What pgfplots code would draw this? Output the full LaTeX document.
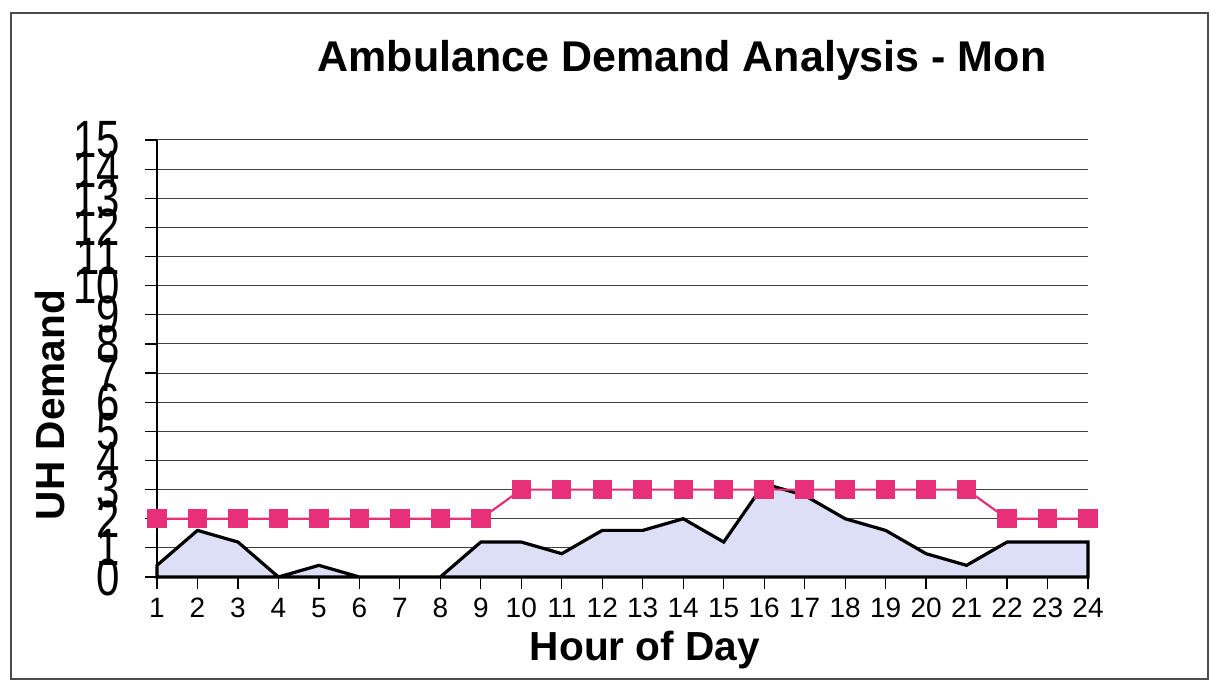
\documentclass[border=0pt]{standalone}
\usepackage{fontspec}
\setmainfont{Liberation Sans}
\usepackage{graphicx}
\usepackage{pgfplots}
\pgfplotsset{compat=1.18}

\definecolor{pinkline}{RGB}{232,48,122}
\definecolor{areafill}{RGB}{220,223,245}

\begin{document}
\begin{tikzpicture}[x=1pt,y=1pt]
\useasboundingbox (0,0) rectangle (605.5,340.5);
\draw[black!70, line width=0.8pt] (5.5,1) rectangle (604,334);
\node[font=\bfseries\fontsize{21.5}{24}\selectfont] at (341,310.5) {Ambulance Demand Analysis - Mon};
\node[font=\bfseries\fontsize{20.3}{22}\selectfont] at (322.5,15.5) {Hour of Day};
\node[font=\bfseries\fontsize{20.3}{22}\selectfont, rotate=90] at (25,138) {UH Demand};
\begin{axis}[at={(78.5pt,52pt)}, anchor=south west, scale only axis,
  width=465.5pt, height=218.5pt,
  xmin=1, xmax=24, ymin=0, ymax=15,
  xtick={1,...,24}, ytick={0,...,15},
  axis x line*=bottom, axis y line*=left,
  ymajorgrids, grid style={black!75, line width=0.5pt},
  tick align=outside, major tick length=6pt,
  tick style={black, line width=0.6pt},
  axis line style={black, line width=0.8pt},
  /pgf/number format/assume math mode=true,
  xticklabel style={font=\fontsize{14}{16}\selectfont, yshift=-1pt},
  yticklabel={\scalebox{1}[1.25]{\pgfmathprintnumber{\tick}}},
  yticklabel style={font=\fontsize{21}{22}\selectfont, xshift=-9pt},
  clip=false,
]
\addplot[draw=black, line width=1.6pt, fill=areafill] coordinates {
(1,0.4) (2,1.6) (3,1.2) (4,0) (5,0.4) (6,0) (7,0) (8,0) (9,1.2) (10,1.2)
(11,0.8) (12,1.6) (13,1.6) (14,2.0) (15,1.2) (16,3.2) (17,2.8) (18,2.0)
(19,1.6) (20,0.8) (21,0.4) (22,1.2) (23,1.2) (24,1.2)
} \closedcycle;
\addplot[pinkline, line width=1.1pt, mark=square*, mark size=4.3pt,
  mark options={fill=pinkline, draw=pinkline}] coordinates {
(1,2) (2,2) (3,2) (4,2) (5,2) (6,2) (7,2) (8,2) (9,2) (10,3)
(11,3) (12,3) (13,3) (14,3) (15,3) (16,3) (17,3) (18,3) (19,3) (20,3)
(21,3) (22,2) (23,2) (24,2)
};
\end{axis}
\end{tikzpicture}
\end{document}
